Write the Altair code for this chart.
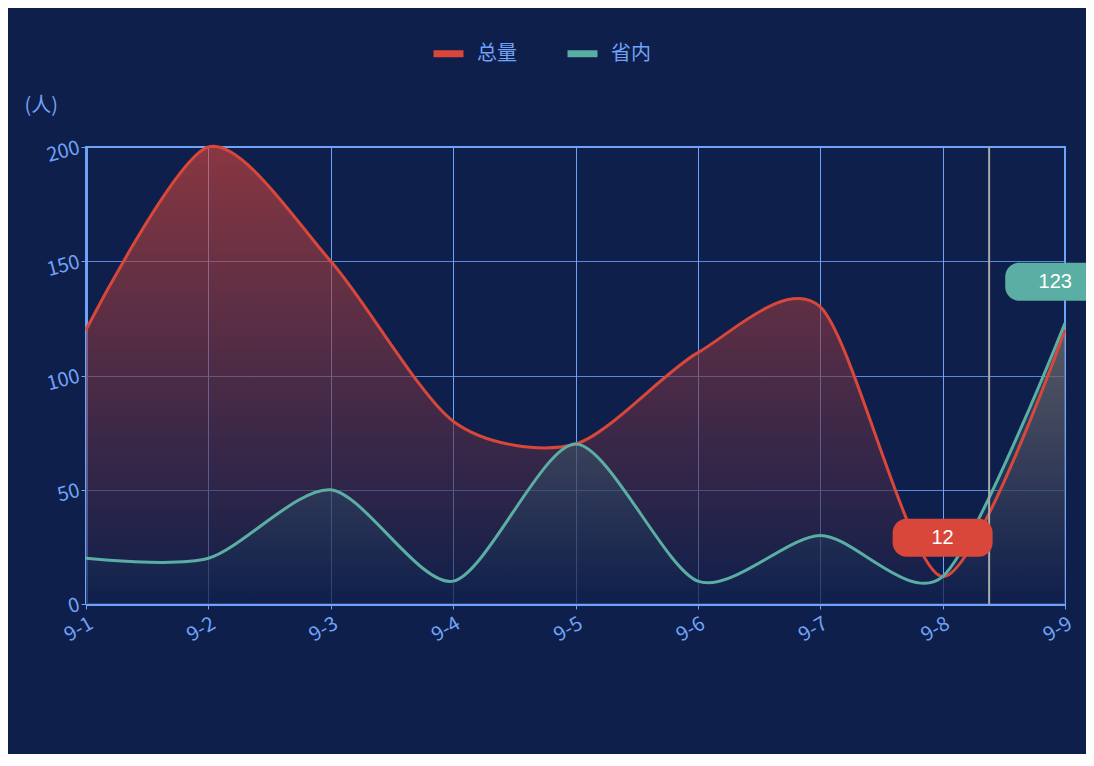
import altair as alt
import pandas as pd

days = ["9-1","9-2","9-3","9-4","9-5","9-6","9-7","9-8","9-9"]
total = [120, 200, 150, 80, 70, 110, 130, 12, 120]
prov = [20, 20, 50, 10, 70, 10, 30, 12, 123]
series = ["总量", "省内"]
colors = ["#d9473a", "#5aaea3"]

rows = []
for i, d in enumerate(days):
    rows.append({"i": i, "day": d, "s": "总量", "v": total[i]})
    rows.append({"i": i, "day": d, "s": "省内", "v": prov[i]})
df = pd.DataFrame(rows)

axcol = "#6fa3f7"
x = alt.X("i:Q", scale=alt.Scale(domain=[0, 8], nice=False),
          axis=alt.Axis(title=None, values=list(range(9)), labelOverlap=False,
                        labelExpr="'9-' + (datum.value + 1)", labelAngle=-30,
                        labelColor=axcol, labelFontSize=20, domainColor=axcol,
                        domainWidth=3, tickColor=axcol, gridColor=axcol,
                        gridOpacity=1, labelAlign="right", labelPadding=4))
y = alt.Y("v:Q", scale=alt.Scale(domain=[0, 200]),
          axis=alt.Axis(title="(人)", titleAngle=0, titleX=-62, titleY=-32,
                        titleAlign="left", titleColor=axcol, titleFontSize=20,
                        titleFontWeight="normal", values=[0, 50, 100, 150, 200],
                        labelColor=axcol, labelFontSize=20, labelAngle=-15,
                        domainColor=axcol, domainWidth=3, tickColor=axcol,
                        gridColor=axcol, gridOpacity=0.8))

base = alt.Chart(df)
areas = []
for s, c, op in zip(series, colors, [0.6, 0.35]):
    areas.append(base.transform_filter(alt.datum.s == s).mark_area(
        interpolate="cardinal", tension=0.2,
        color=alt.Gradient(gradient="linear", x1=0, x2=0, y1=0, y2=1,
                           stops=[alt.GradientStop(color=c, offset=0),
                                  alt.GradientStop(color="#0f1f4b", offset=1)]),
        opacity=op).encode(x=x, y=y))

lines = base.mark_line(interpolate="cardinal", tension=0.2, strokeWidth=3).encode(
    x=x, y=y,
    color=alt.Color("s:N", scale=alt.Scale(domain=series, range=colors),
                    legend=alt.Legend(title=None, orient="none", direction="horizontal",
                                      legendX=344, legendY=-112, labelColor=axcol,
                                      labelFontSize=20, symbolType="stroke",
                                      symbolSize=900, symbolStrokeWidth=7,
                                      columnPadding=36, labelOffset=10)))

vline = alt.Chart(pd.DataFrame({"i": [7.38]})).mark_rule(color="#aaaaaa", strokeWidth=2).encode(
    x=alt.X("i:Q", scale=alt.Scale(domain=[0, 8])))

lab = pd.DataFrame({"i": [7, 7.92], "v": [29, 141], "t": ["12", "123"], "c": colors})
rects = alt.Chart(lab).mark_rect(cornerRadius=14, xOffset=-50, x2Offset=50,
                                 yOffset=-19, y2Offset=19).encode(
    x=alt.X("i:Q", scale=alt.Scale(domain=[0, 8])), x2="i:Q",
    y=alt.Y("v:Q", scale=alt.Scale(domain=[0, 200])), y2="v:Q",
    color=alt.Color("c:N", scale=None, legend=None))
texts = alt.Chart(lab).mark_text(color="white", fontSize=20, dx=[0][0]).encode(
    x=alt.X("i:Q", scale=alt.Scale(domain=[0, 8])),
    y=alt.Y("v:Q", scale=alt.Scale(domain=[0, 200])), text="t:N")

chart = alt.layer(*areas, lines, vline, rects, texts).properties(
    width=979, height=457, background="#0f1f4b",
    autosize=alt.AutoSizeParams(type="none"),
    padding={"left": 78, "top": 139, "right": 21, "bottom": 150}
).configure_view(stroke=axcol, strokeWidth=2).configure_axis(
    labelFont="Noto Sans CJK SC", titleFont="Noto Sans CJK SC"
).configure_legend(labelFont="Noto Sans CJK SC")

chart.save("out.html", embed_options={"renderer": "svg", "actions": False})
